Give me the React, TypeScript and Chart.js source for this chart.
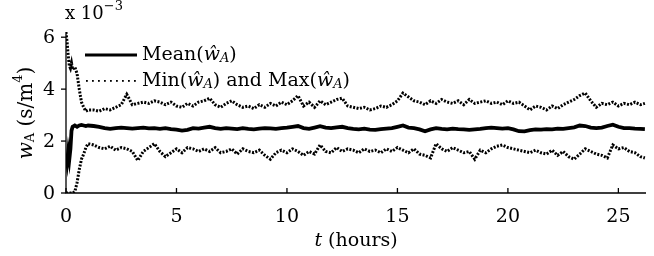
import React, { useEffect, useRef } from "react";
import { Chart, registerables } from "chart.js";

Chart.register(...registerables);

// time in hours
const hours = [
  0, 0.05, 0.1, 0.15, 0.2, 0.25, 0.3, 0.4, 0.5, 0.6, 0.7, 0.8, 0.9, 1.0,
  1.25, 1.5, 1.75, 2.0, 2.25, 2.5, 2.75, 3.0, 3.25, 3.5, 3.75, 4.0,
  4.25, 4.5, 4.75, 5.0, 5.25, 5.5, 5.75, 6.0, 6.25, 6.5, 6.75, 7.0,
  7.25, 7.5, 7.75, 8.0, 8.25, 8.5, 8.75, 9.0, 9.25, 9.5, 9.75, 10.0,
  10.25, 10.5, 10.75, 11.0, 11.25, 11.5, 11.75, 12.0, 12.25, 12.5, 12.75, 13.0,
  13.25, 13.5, 13.75, 14.0, 14.25, 14.5, 14.75, 15.0, 15.25, 15.5, 15.75, 16.0,
  16.25, 16.5, 16.75, 17.0, 17.25, 17.5, 17.75, 18.0, 18.25, 18.5, 18.75, 19.0,
  19.25, 19.5, 19.75, 20.0, 20.25, 20.5, 20.75, 21.0, 21.25, 21.5, 21.75, 22.0,
  22.25, 22.5, 22.75, 23.0, 23.25, 23.5, 23.75, 24.0, 24.25, 24.5, 24.75, 25.0,
  25.25, 25.5, 25.75, 26.0, 26.2,
];

// values in units of 1e-3 s/m^4
const meanW = [
  1.5, 1.2, 1.6, 1.3, 1.7, 2.4, 2.55, 2.6, 2.55, 2.6, 2.62, 2.6, 2.58, 2.6,
  2.58, 2.55, 2.5, 2.47, 2.5, 2.52, 2.5, 2.48, 2.5, 2.52, 2.49, 2.5,
  2.47, 2.5, 2.46, 2.44, 2.4, 2.43, 2.5, 2.48, 2.52, 2.55, 2.5, 2.47,
  2.5, 2.48, 2.46, 2.5, 2.47, 2.45, 2.48, 2.5, 2.49, 2.47, 2.5, 2.52,
  2.55, 2.58, 2.5, 2.47, 2.52, 2.57, 2.52, 2.5, 2.53, 2.55, 2.5, 2.47,
  2.45, 2.48, 2.44, 2.43, 2.46, 2.48, 2.5, 2.55, 2.6, 2.52, 2.5, 2.45,
  2.38, 2.45, 2.5, 2.47, 2.45, 2.48, 2.46, 2.45, 2.43, 2.45, 2.47, 2.5,
  2.52, 2.5, 2.48, 2.5, 2.45, 2.38, 2.37, 2.42, 2.45, 2.44, 2.46, 2.45,
  2.48, 2.47, 2.5, 2.53, 2.6, 2.58, 2.52, 2.5, 2.52, 2.58, 2.63, 2.55,
  2.5, 2.5, 2.48, 2.47, 2.46,
];

const maxW = [
  6.2, 5.8, 5.3, 4.9, 4.8, 5.0, 4.75, 4.85, 4.6, 4.0, 3.5, 3.3, 3.15, 3.2,
  3.2, 3.15, 3.25, 3.2, 3.3, 3.4, 3.8, 3.4, 3.45, 3.5, 3.45, 3.55,
  3.5, 3.4, 3.5, 3.35, 3.3, 3.45, 3.35, 3.5, 3.55, 3.65, 3.4, 3.3,
  3.45, 3.55, 3.4, 3.3, 3.35, 3.25, 3.4, 3.3, 3.45, 3.35, 3.5, 3.4,
  3.55, 3.75, 3.35, 3.5, 3.3, 3.55, 3.4, 3.5, 3.6, 3.65, 3.35, 3.3,
  3.25, 3.3, 3.2, 3.25, 3.35, 3.3, 3.4, 3.55, 3.85, 3.7, 3.55, 3.5,
  3.4, 3.55, 3.45, 3.6, 3.5, 3.45, 3.55, 3.4, 3.6, 3.45, 3.5, 3.55,
  3.45, 3.5, 3.4, 3.55, 3.45, 3.5, 3.35, 3.2, 3.35, 3.3, 3.2, 3.35,
  3.25, 3.4, 3.5, 3.6, 3.75, 3.85, 3.55, 3.3, 3.45, 3.4, 3.5, 3.35,
  3.45, 3.4, 3.5, 3.4, 3.45,
];

const minW = [
  0, 0, 0, 0, 0, 0, 0, 0.05, 0.4, 0.9, 1.3, 1.5, 1.75, 1.9,
  1.85, 1.75, 1.7, 1.8, 1.65, 1.75, 1.7, 1.6, 1.25, 1.6, 1.75, 1.9,
  1.6, 1.4, 1.55, 1.7, 1.55, 1.75, 1.7, 1.6, 1.7, 1.6, 1.75, 1.55,
  1.6, 1.7, 1.5, 1.7, 1.6, 1.55, 1.65, 1.45, 1.3, 1.55, 1.65, 1.55,
  1.7, 1.6, 1.45, 1.6, 1.5, 1.85, 1.6, 1.55, 1.75, 1.6, 1.7, 1.65,
  1.55, 1.7, 1.6, 1.65, 1.55, 1.7, 1.6, 1.75, 1.65, 1.55, 1.7, 1.5,
  1.45, 1.35, 1.9, 1.7, 1.6, 1.75, 1.65, 1.55, 1.6, 1.3, 1.65, 1.55,
  1.7, 1.8, 1.85, 1.75, 1.7, 1.65, 1.6, 1.55, 1.65, 1.55, 1.5, 1.65,
  1.45, 1.6, 1.4, 1.3, 1.5, 1.7, 1.6, 1.5, 1.45, 1.35, 1.85, 1.7,
  1.75, 1.6, 1.55, 1.4, 1.35,
];

const xTicks = [0, 5, 10, 15, 20, 25];
const yTicks = [0, 2, 4, 6];
const xMax = 26.25;
const yMax = 6.2;

const SERIF = '"DejaVu Serif", "Liberation Serif", serif';
const F = (size: number, italic = false) => `${italic ? "italic " : ""}${size}px ${SERIF}`;

type Seg = { t: string; font: string; dy?: number };

function segWidth(ctx: CanvasRenderingContext2D, segs: Seg[]) {
  let w = 0;
  for (const s of segs) {
    ctx.font = s.font;
    w += ctx.measureText(s.t).width;
  }
  return w;
}

function drawSegs(ctx: CanvasRenderingContext2D, segs: Seg[], x: number, y: number) {
  let cx = x;
  for (const s of segs) {
    ctx.font = s.font;
    ctx.fillText(s.t, cx, y + (s.dy || 0));
    cx += ctx.measureText(s.t).width;
  }
}

const decorPlugin = {
  id: "decor",
  afterDraw(chart: any) {
    const ctx: CanvasRenderingContext2D = chart.ctx;
    const { left, right, top, bottom } = chart.chartArea;
    const xs = chart.scales.x;
    const ys = chart.scales.y;
    ctx.save();
    ctx.fillStyle = "#000";
    ctx.strokeStyle = "#000";
    ctx.lineWidth = 1.3;
    // axes
    ctx.beginPath();
    ctx.moveTo(left, top);
    ctx.lineTo(left, bottom);
    ctx.lineTo(right, bottom);
    ctx.stroke();
    // y ticks
    ctx.textAlign = "right";
    ctx.textBaseline = "middle";
    ctx.font = F(19);
    for (const v of yTicks) {
      const y = ys.getPixelForValue(v);
      ctx.beginPath();
      ctx.moveTo(left - 5, y);
      ctx.lineTo(left, y);
      ctx.stroke();
      ctx.fillText(String(v), left - 11, y + 1);
    }
    // x ticks
    ctx.textAlign = "center";
    for (const v of xTicks) {
      const x = xs.getPixelForValue(v);
      ctx.beginPath();
      ctx.moveTo(x, bottom);
      ctx.lineTo(x, bottom - 5);
      ctx.stroke();
      ctx.fillText(String(v), x, bottom + 24);
    }
    // x title
    ctx.textAlign = "left";
    const xt: Seg[] = [
      { t: "t", font: F(19, true) },
      { t: " (hours)", font: F(19) },
    ];
    const xw = segWidth(ctx, xt);
    drawSegs(ctx, xt, (left + right) / 2 - xw / 2, 241);
    // exponent label
    drawSegs(ctx, [{ t: "x 10", font: F(18) }, { t: "\u22123", font: F(13), dy: -7 }], left - 1, 14);
    // y title rotated
    ctx.save();
    ctx.translate(27, 113);
    ctx.rotate(-Math.PI / 2);
    const yt: Seg[] = [
      { t: "w", font: F(20, true) },
      { t: "A", font: F(13), dy: 4 },
      { t: " (s/m", font: F(20) },
      { t: "4", font: F(13), dy: -8 },
      { t: ")", font: F(20) },
    ];
    const yw = segWidth(ctx, yt);
    drawSegs(ctx, yt, -yw / 2, 0);
    ctx.restore();
    // legend
    ctx.lineWidth = 3;
    ctx.beginPath();
    ctx.moveTo(85, 55);
    ctx.lineTo(137, 55);
    ctx.stroke();
    for (let i = 0; i < 9; i++) {
      ctx.fillRect(86 + i * 6, 80, 1.8, 1.8);
    }
    drawSegs(
      ctx,
      [
        { t: "Mean(", font: F(19) },
        { t: "\u0175", font: F(19, true) },
        { t: "A", font: F(13, true), dy: 4 },
        { t: ")", font: F(19) },
      ],
      142,
      55
    );
    drawSegs(
      ctx,
      [
        { t: "Min(", font: F(19) },
        { t: "\u0175", font: F(19, true) },
        { t: "A", font: F(13, true), dy: 4 },
        { t: ") and Max(", font: F(19) },
        { t: "\u0175", font: F(19, true) },
        { t: "A", font: F(13, true), dy: 4 },
        { t: ")", font: F(19) },
      ],
      142,
      81
    );
    ctx.restore();
  },
};

export default function App() {
  const ref = useRef<HTMLCanvasElement | null>(null);
  useEffect(() => {
    if (!ref.current) return;
    const toPts = (arr: number[]) => hours.map((h, i) => ({ x: h, y: arr[i] }));
    const chart = new Chart(ref.current, {
      type: "line",
      data: {
        datasets: [
          {
            label: "Max",
            data: toPts(maxW),
            borderColor: "#000",
            borderWidth: 3,
            borderDash: [2, 1.5],
            pointRadius: 0,
            tension: 0,
          },
          {
            label: "Mean",
            data: toPts(meanW),
            borderColor: "#000",
            borderWidth: 3.8,
            pointRadius: 0,
            tension: 0,
          },
          {
            label: "Min",
            data: toPts(minW),
            borderColor: "#000",
            borderWidth: 3,
            borderDash: [2, 1.5],
            pointRadius: 0,
            tension: 0,
          },
        ],
      },
      options: {
        animation: false,
        responsive: false,
        maintainAspectRatio: false,
        layout: { padding: { left: 0, right: 8, top: 32, bottom: 0 } },
        plugins: { legend: { display: false }, tooltip: { enabled: false } },
        scales: {
          x: {
            type: "linear",
            min: 0,
            max: xMax,
            grid: { display: false },
            border: { display: false },
            ticks: { display: false },
            afterFit: (s: any) => {
              s.height = 63;
            },
          },
          y: {
            type: "linear",
            min: 0,
            max: yMax,
            grid: { display: false },
            border: { display: false },
            ticks: { display: false },
            afterFit: (s: any) => {
              s.width = 66;
            },
          },
        },
      },
      plugins: [decorPlugin],
    } as any);
    return () => chart.destroy();
  }, []);
  return (
    <div style={{ position: "absolute", left: 0, top: 0, width: 654, height: 256, background: "#fff" }}>
      <canvas ref={ref} width={654} height={256} style={{ width: 654, height: 256 }} />
    </div>
  );
}
